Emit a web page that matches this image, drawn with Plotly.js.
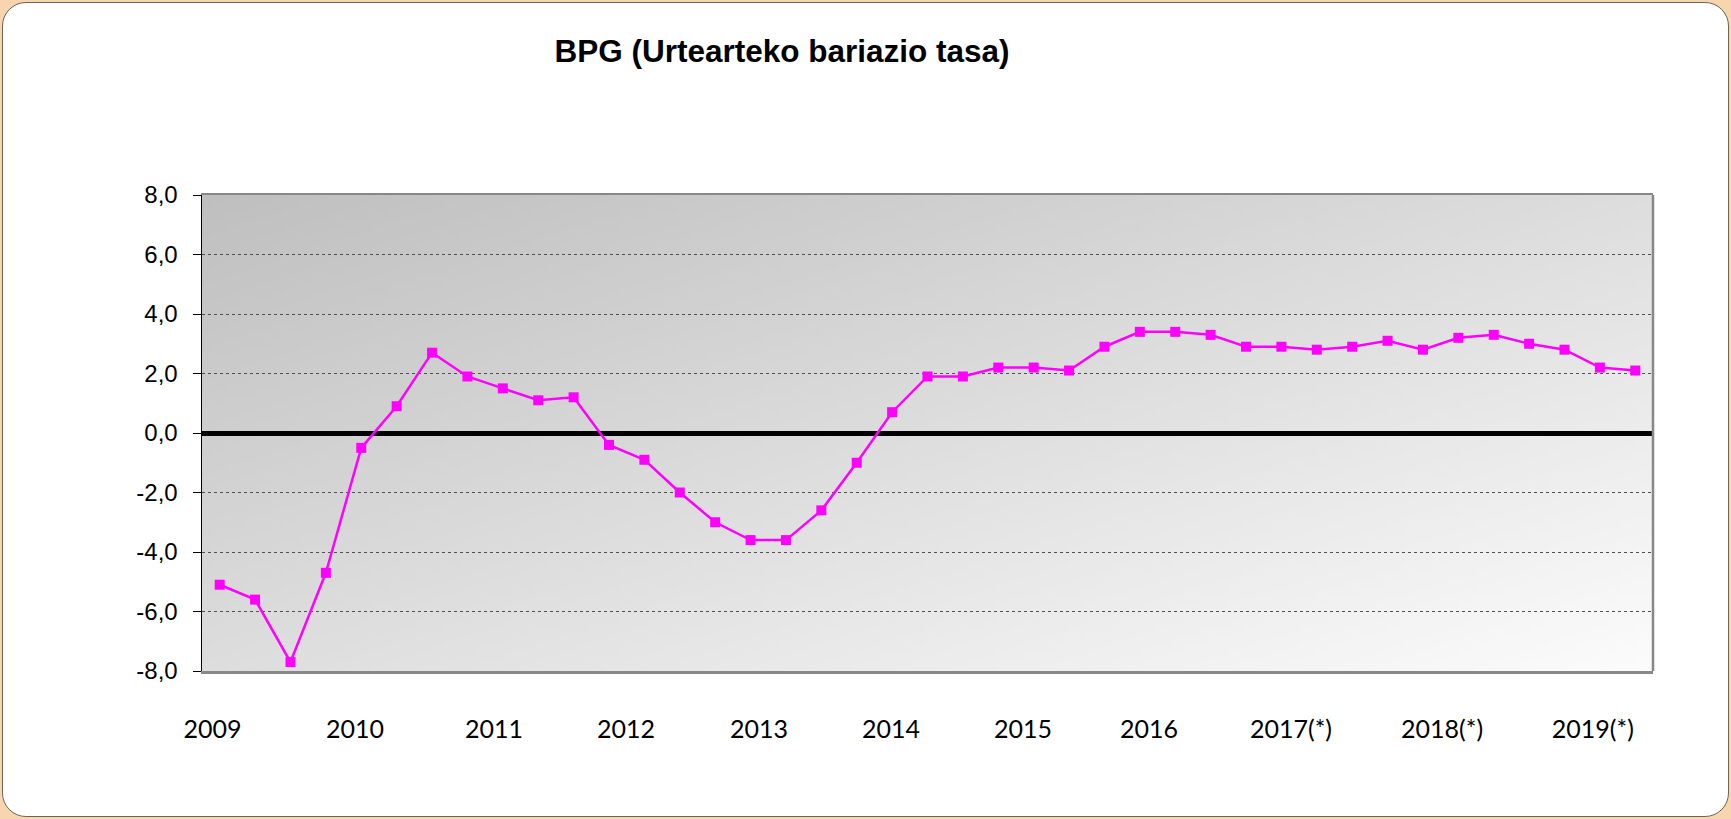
<!DOCTYPE html>
<html>
<head>
<meta charset="utf-8">
<script src="https://cdn.plot.ly/plotly-3.0.1.min.js"></script>
<style>
  html, body { margin: 0; padding: 0; }
  body { width: 1731px; height: 819px; background: #F7D5AE; position: relative; overflow: hidden; }
  #frame { position: absolute; left: 2px; top: 2px; width: 1725px; height: 813px;
           background: #ffffff; border: 1.5px solid #6e6458; border-radius: 24px; }
  #chart { position: absolute; left: 0; top: 0; width: 1731px; height: 819px; }
</style>
</head>
<body>
<div id="frame"></div>
<div id="chart"></div>
<script>
// ---- Data ----
const quarters = [
  "2009-I","2009-II","2009-III","2009-IV",
  "2010-I","2010-II","2010-III","2010-IV",
  "2011-I","2011-II","2011-III","2011-IV",
  "2012-I","2012-II","2012-III","2012-IV",
  "2013-I","2013-II","2013-III","2013-IV",
  "2014-I","2014-II","2014-III","2014-IV",
  "2015-I","2015-II","2015-III","2015-IV",
  "2016-I","2016-II","2016-III","2016-IV",
  "2017-I","2017-II","2017-III","2017-IV",
  "2018-I","2018-II","2018-III","2018-IV",
  "2019-I"
];
const bpgRate = [
  -5.1, -5.6, -7.7, -4.7,
  -0.5, 0.9, 2.7, 1.9,
  1.5, 1.1, 1.2, -0.4,
  -0.9, -2.0, -3.0, -3.6,
  -3.6, -2.6, -1.0, 0.7,
  1.9, 1.9, 2.2, 2.2,
  2.1, 2.9, 3.4, 3.4,
  3.3, 2.9, 2.9, 2.8,
  2.9, 3.1, 2.8, 3.2,
  3.3, 3.0, 2.8, 2.2,
  2.1
];
const yearLabels = ["2009","2010","2011","2012","2013","2014","2015","2016","2017(*)","2018(*)","2019(*)"];
const yTickValues = [-8, -6, -4, -2, 0, 2, 4, 6, 8];
const yTickLabels = ["-8,0","-6,0","-4,0","-2,0","0,0","2,0","4,0","6,0","8,0"];
const chartTitle = "BPG (Urtearteko bariazio tasa)";

// ---- Layout helpers ----
// where the year labels sit along the category axis (category-index units)
const yearLabelPositions = [-0.2, 3.82, 7.75, 11.48, 15.24, 18.97, 22.7, 26.26, 30.27, 34.54, 38.8];

function gradientImage() {
  const c = document.createElement('canvas');
  c.width = 200; c.height = 200;
  const ctx = c.getContext('2d');
  const g = ctx.createLinearGradient(0, 0, 200, 200);
  g.addColorStop(0, '#bfbfbf');
  g.addColorStop(1, '#fcfcfc');
  ctx.fillStyle = g;
  ctx.fillRect(0, 0, 200, 200);
  return c.toDataURL('image/png');
}

const xIndex = quarters.map((q, i) => i);

const trace = {
  type: 'scatter',
  mode: 'lines+markers',
  x: xIndex,
  y: bpgRate,
  text: quarters,
  line: { color: '#FF00FF', width: 2.5 },
  marker: { symbol: 'square', size: 10, color: '#FF00FF' },
  cliponaxis: false,
  hoverinfo: 'text+y'
};

const layout = {
  width: 1731,
  height: 819,
  margin: { l: 202, r: 78, t: 195, b: 148 },
  paper_bgcolor: 'rgba(0,0,0,0)',
  plot_bgcolor: 'rgba(0,0,0,0)',
  showlegend: false,
  title: {
    text: '<b>' + chartTitle + '</b>',
    font: { family: 'Liberation Sans, Arial, sans-serif', size: 31.5, color: '#000' },
    x: 782 / 1731, xref: 'container', xanchor: 'center',
    y: 1 - 51 / 819, yref: 'container', yanchor: 'middle'
  },
  xaxis: {
    type: 'linear',
    range: [-0.5, quarters.length - 0.5],
    showgrid: false,
    zeroline: false,
    showline: true,
    linecolor: '#888888',
    linewidth: 2.5,
    mirror: true,
    ticks: '',
    tickmode: 'array',
    tickvals: yearLabelPositions,
    ticktext: yearLabels,
    ticklabelstandoff: 34,
    tickfont: { family: 'Lato, Open Sans, sans-serif', size: 25, color: '#000' }
  },
  yaxis: {
    range: [-8, 8],
    tickmode: 'array',
    tickvals: yTickValues,
    ticktext: yTickLabels,
    showgrid: true,
    gridcolor: '#505050',
    gridwidth: 1,
    griddash: 'dot',
    zeroline: true,
    zerolinecolor: '#000000',
    zerolinewidth: 5,
    showline: true,
    linecolor: '#000000',
    linewidth: 1.5,
    ticks: 'outside',
    ticklen: 8,
    tickwidth: 1,
    tickcolor: '#000000',
    ticklabelstandoff: 10,
    tickfont: { family: 'Liberation Sans, Arial, sans-serif', size: 24, color: '#000' }
  },
  images: [{
    source: gradientImage(),
    xref: 'paper', yref: 'paper',
    x: 0, y: 1, sizex: 1, sizey: 1,
    xanchor: 'left', yanchor: 'top',
    sizing: 'stretch', layer: 'below'
  }],
  shapes: [{
    type: 'line', xref: 'paper', yref: 'paper',
    x0: 1, x1: 1, y0: 0, y1: 1,
    line: { color: '#888888', width: 2.5 }
  }]
};

Plotly.newPlot('chart', [trace], layout, { staticPlot: true, displayModeBar: false });
</script>
</body>
</html>
